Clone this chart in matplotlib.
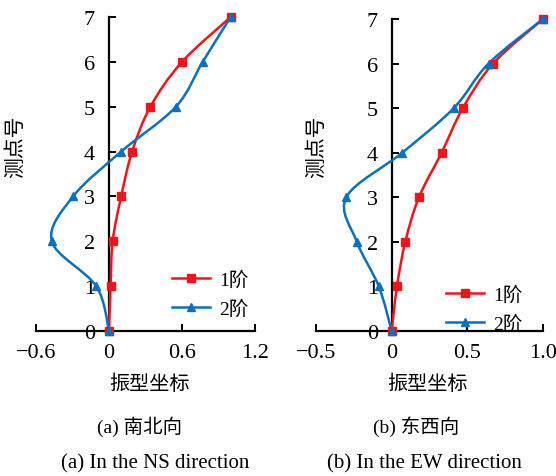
import numpy as np
import matplotlib
matplotlib.use("Agg")
import matplotlib.pyplot as plt
from matplotlib.path import Path
from matplotlib.patches import PathPatch

# ---------------- data ----------------
points = [0, 1, 2, 3, 4, 5, 6, 7]          # 测点号
ns_mode1 = [0.0, 0.013, 0.03, 0.10, 0.19, 0.34, 0.60, 1.0]
ns_mode2 = [0.0, -0.105, -0.47, -0.295, 0.10, 0.55, 0.77, 1.0]
ew_mode1 = [0.0, 0.035, 0.09, 0.18, 0.33, 0.47, 0.67, 1.0]
ew_mode2 = [0.0, -0.085, -0.23, -0.30, 0.07, 0.41, 0.64, 1.0]
ns_xticks = [-0.6, 0, 0.6, 1.2]
ew_xticks = [-0.5, 0, 0.5, 1.0]
ew_xticklabels = ["\u22120.5", "0", "0.5", "1.0"]
ns_xticklabels = ["\u22120.6", "0", "0.6", "1.2"]
yticks = [0, 1, 2, 3, 4, 5, 6, 7]
legend_labels = ["1阶", "2阶"]

RED = "#f2141c"
BLUE = "#0a70c0"
SERIF = ["Liberation Serif", "Noto Sans CJK SC"]
CJK = ["Noto Sans CJK SC", "DejaVu Sans"]

W, H = 556, 477
fig = plt.figure(figsize=(W / 100, H / 100), dpi=100)


def smooth_path(xs, ys):
    """Excel-style smoothed line (cubic Bezier through points)."""
    P = np.column_stack([xs, ys]).astype(float)
    n = len(P)
    verts = [P[0]]
    codes = [Path.MOVETO]
    for i in range(n - 1):
        p0 = P[i - 1] if i > 0 else P[i]
        p1 = P[i]
        p2 = P[i + 1]
        p3 = P[i + 2] if i + 2 < n else P[i + 1]
        c1 = p1 + (p2 - p0) / 6.0
        c2 = p2 - (p3 - p1) / 6.0
        verts += [c1, c2, p2]
        codes += [Path.CURVE4] * 3
    return Path(verts, codes)


def make_panel(rect, xlim, xticks, xticklabels, m1, m2):
    ax = fig.add_axes(rect)
    ax.set_xlim(*xlim)
    ax.set_ylim(0, 7)
    for name in ("top", "right"):
        ax.spines[name].set_visible(False)
    ax.spines["left"].set_position(("data", 0))
    ax.spines["bottom"].set_position(("data", 0))
    for s in ("left", "bottom"):
        ax.spines[s].set_linewidth(1.6)
        ax.spines[s].set_color("black")
    ax.set_xticks(xticks)
    ax.set_xticklabels(xticklabels)
    ax.set_yticks(yticks)
    ax.tick_params(axis="both", direction="in", length=5, width=1.4,
                   labelsize=16, colors="black")
    ax.tick_params(axis="y", pad=10)
    ax.tick_params(axis="x", pad=9)
    for lab in ax.get_xticklabels() + ax.get_yticklabels():
        lab.set_family(SERIF)

    for vals, color, marker, ms, lab in ((m1, RED, "s", 6, legend_labels[0]),
                                          (m2, BLUE, "^", 6, legend_labels[1])):
        patch = PathPatch(smooth_path(vals, points), facecolor="none",
                          edgecolor=color, lw=1.8, clip_on=False, zorder=3)
        ax.add_patch(patch)
        ax.plot(vals, points, linestyle="none", marker=marker, ms=ms,
                color=color, clip_on=False, zorder=4)
        ax.plot([], [], color=color, lw=1.8, marker=marker, ms=ms, label=lab)
    return ax


ax1 = make_panel([36 / W, 1 - 332 / H, 219 / W, 314 / H], (-0.6, 1.2),
                 ns_xticks, ns_xticklabels, ns_mode1, ns_mode2)
ax2 = make_panel([316 / W, 1 - 332 / H, 227 / W, 312 / H], (-0.5, 1.0),
                 ew_xticks, ew_xticklabels, ew_mode1, ew_mode2)

for ax, (lx, ly) in ((ax1, (156, 256)), (ax2, (430, 271))):
    leg = ax.legend(loc="upper left", bbox_to_anchor=(lx / W, 1 - ly / H),
                    bbox_transform=fig.transFigure, frameon=False,
                    prop={"family": SERIF, "size": 14}, handlelength=2.0,
                    handletextpad=0.45, labelspacing=0.55, borderpad=0.3)

# axis titles
for x in (15, 316):
    fig.text(x / W, 1 - 147 / H, "测点号", rotation=90, ha="center",
             va="center", family=CJK, fontsize=15)
for x in (150, 428):
    fig.text(x / W, 1 - 385 / H, "振型坐标", ha="center", va="center",
             family=CJK, fontsize=14.5)

# captions
fig.text(140 / W, 1 - 427 / H, "(a) 南北向", ha="center", va="center",
         family=SERIF, fontsize=14)
fig.text(416 / W, 1 - 427 / H, "(b) 东西向", ha="center", va="center",
         family=SERIF, fontsize=14)
fig.text(155 / W, 1 - 464 / H, "(a) In the NS direction", ha="center",
         va="center", family=SERIF, fontsize=15)
fig.text(424 / W, 1 - 464 / H, "(b) In the EW direction", ha="center",
         va="center", family=SERIF, fontsize=15)

fig.savefig("out.png", dpi=100)
